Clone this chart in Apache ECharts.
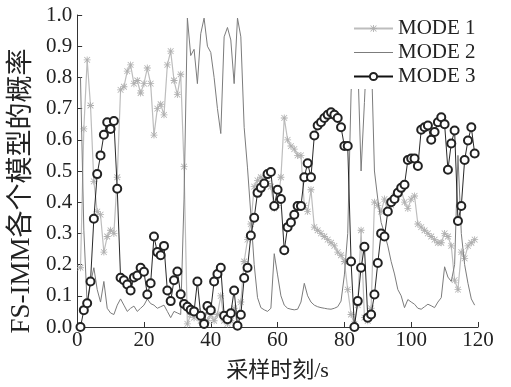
<!DOCTYPE html>
<html>
<head>
<meta charset="utf-8">
<script src="https://cdn.jsdelivr.net/npm/echarts@6/dist/echarts.min.js"></script>
<style>
  html, body { margin: 0; padding: 0; background: #fff; }
  #chart { width: 511px; height: 387px; }
</style>
</head>
<body>
<div id="chart"></div>
<script>
// sample times start at 1 s, one sample per second
const startTime = 1;

// MODE 1 probability (light grey, star markers)
const mode1 = [
  0.19, 0.635, 0.856, 0.71, 0.467, 0.37, 0.36, 0.24, 0.29, 0.31,
  0.30, 0.48, 0.76, 0.77, 0.82, 0.84, 0.78, 0.79, 0.75, 0.78,
  0.83, 0.78, 0.615, 0.70, 0.714, 0.68, 0.84, 0.884, 0.79, 0.745,
  0.81, 0.514, 0.01, 0.04, 0.03, 0.05, 0.02, 0.01, 0.02, 0.04,
  0.02, 0.04, 0.10, 0.02, 0.01, 0.02, 0.06, 0.005, 0.08, 0.21,
  0.28, 0.33, 0.45, 0.47, 0.48, 0.47, 0.46, 0.45, 0.38, 0.39,
  0.48, 0.67, 0.60, 0.58, 0.57, 0.55, 0.55, 0.39, 0.37, 0.44,
  0.32, 0.31, 0.30, 0.29, 0.28, 0.27, 0.26, 0.24, 0.23, 0.21,
  0.12, 0.04, 0.01, 0.07, 0.31, 0.03, 0.02, 0.06, 0.40, 0.39,
  0.37, 0.41, 0.37, 0.39, 0.42, 0.43, 0.44, 0.40, 0.38, 0.41,
  0.42, 0.33, 0.32, 0.31, 0.30, 0.29, 0.28, 0.27, 0.27, 0.30,
  0.29, 0.26, 0.15, 0.12, 0.24, 0.22, 0.26, 0.27, 0.28
];

// MODE 2 probability (grey line)
const mode2 = [
  0.80, 0.31, 0.07, 0.14, 0.19, 0.12, 0.08, 0.146, 0.06, 0.045,
  0.04, 0.07, 0.09, 0.07, 0.05, 0.06, 0.067, 0.05, 0.06, 0.07,
  0.09, 0.075, 0.07, 0.06, 0.065, 0.07, 0.05, 0.03, 0.05, 0.045,
  0.04, 0.41, 0.99, 0.87, 0.89, 0.78, 0.94, 0.99, 0.90, 0.88,
  0.80, 0.70, 0.62, 0.93, 0.96, 0.92, 0.78, 0.99, 0.93, 0.64,
  0.51, 0.36, 0.20, 0.094, 0.062, 0.055, 0.05, 0.06, 0.235, 0.167,
  0.10, 0.07, 0.06, 0.057, 0.055, 0.057, 0.08, 0.14, 0.10, 0.08,
  0.07, 0.065, 0.062, 0.06, 0.058, 0.057, 0.06, 0.065, 0.083, 0.167,
  0.30, 0.75, 0.99, 0.85, 0.50, 0.72, 0.95, 0.90, 0.50, 0.41,
  0.335, 0.30, 0.26, 0.21, 0.17, 0.12, 0.10, 0.062, 0.088, 0.08,
  0.073, 0.06, 0.057, 0.065, 0.073, 0.068, 0.062, 0.08, 0.094, 0.193,
  0.16, 0.146, 0.20, 0.55, 0.30, 0.20, 0.14, 0.09, 0.07
];

// MODE 3 probability (black, circle markers)
const mode3 = [
  0.00, 0.054, 0.076, 0.146, 0.347, 0.49, 0.55, 0.616, 0.656, 0.635,
  0.66, 0.443, 0.158, 0.15, 0.136, 0.117, 0.159, 0.165, 0.19, 0.177,
  0.104, 0.14, 0.29, 0.24, 0.23, 0.26, 0.117, 0.083, 0.15, 0.178,
  0.105, 0.074, 0.065, 0.055, 0.05, 0.146, 0.036, 0.01, 0.067, 0.054,
  0.146, 0.17, 0.19, 0.036, 0.025, 0.044, 0.117, 0.004, 0.039, 0.157,
  0.19, 0.293, 0.35, 0.43, 0.446, 0.46, 0.49, 0.497, 0.388, 0.44,
  0.41, 0.246, 0.32, 0.335, 0.36, 0.388, 0.388, 0.48, 0.525, 0.48,
  0.614, 0.646, 0.656, 0.67, 0.68, 0.688, 0.68, 0.67, 0.64, 0.58,
  0.58, 0.21, 0.0, 0.083, 0.19, 0.257, 0.03, 0.04, 0.104, 0.205,
  0.30, 0.29, 0.37, 0.40, 0.41, 0.43, 0.446, 0.456, 0.535, 0.54,
  0.54, 0.516, 0.632, 0.64, 0.646, 0.60, 0.625, 0.656, 0.672, 0.65,
  0.504, 0.588, 0.63, 0.34, 0.388, 0.535, 0.598, 0.64, 0.556
];

const seriesNames = ["MODE 1", "MODE 2", "MODE 3"];
const xTicks = [0, 20, 40, 60, 80, 100, 120];
const yTicks = [0.0, 0.1, 0.2, 0.3, 0.4, 0.5, 0.6, 0.7, 0.8, 0.9, 1.0];

const serif = "'Liberation Serif', 'Times New Roman', 'Noto Sans CJK SC', serif";
const starSymbol =
  "path://M4.4,0H5.6V10H4.4Z M0,4.4H10V5.6H0Z M1.3,0.5L9.5,8.7L8.7,9.5L0.5,1.3Z M8.7,0.5L9.5,1.3L1.3,9.5L0.5,8.7Z";
// plain line for the MODE 2 legend entry (tiny corner dots keep the box 39x9)
const plainLineIcon =
  "path://M0,0h0.01v0.01h-0.01z M0,4h39v1h-39z M38.99,8.99h0.01v0.01h-0.01z";

const toPairs = (arr) => arr.map((v, i) => [startTime + i, v]);

const chart = echarts.init(document.getElementById("chart"), null, { renderer: "canvas" });

const option = {
  backgroundColor: "#fff",
  animation: false,
  grid: { left: 72, right: 33, top: 15, bottom: 54 },
  legend: {
    data: [
      { name: seriesNames[0] },
      { name: seriesNames[1], icon: plainLineIcon },
      { name: seriesNames[2] },
    ],
    orient: "vertical",
    left: 349,
    top: 14,
    backgroundColor: "#fff",
    padding: [4, 6, 2, 4],
    itemWidth: 39,
    itemHeight: 9,
    itemGap: 3,
    textStyle: { fontFamily: serif, fontSize: 21, lineHeight: 20, color: "#222" },
  },
  xAxis: {
    type: "value",
    min: xTicks[0],
    max: xTicks[xTicks.length - 1],
    interval: 20,
    name: "采样时刻/s",
    nameLocation: "middle",
    nameGap: 33,
    nameTextStyle: { fontFamily: serif, fontSize: 22, color: "#222" },
    axisLine: { show: true, lineStyle: { color: "#333", width: 1 } },
    axisTick: { show: true, inside: true, length: 5, lineStyle: { color: "#333" } },
    axisLabel: { fontFamily: serif, fontSize: 21, color: "#222", margin: 3 },
    splitLine: { show: false },
  },
  yAxis: {
    type: "value",
    min: yTicks[0],
    max: yTicks[yTicks.length - 1],
    interval: 0.1,
    name: "FS-IMM各个模型的概率",
    nameLocation: "middle",
    nameGap: 42,
    // right padding nudges the rotated title down along the axis
    nameTextStyle: { fontFamily: serif, fontSize: 27, color: "#222", padding: [0, 40, 0, 0] },
    axisLine: { show: true, lineStyle: { color: "#333", width: 1 } },
    axisTick: { show: true, inside: true, length: 5, lineStyle: { color: "#333" } },
    axisLabel: {
      fontFamily: serif,
      fontSize: 21,
      color: "#222",
      margin: 5,
      formatter: (v) => v.toFixed(1),
    },
    splitLine: { show: false },
  },
  series: [
    {
      name: seriesNames[0],
      type: "line",
      data: toPairs(mode1),
      symbol: starSymbol,
      symbolSize: 7,
      showAllSymbol: true,
      lineStyle: { color: "#bdbdbd", width: 1.2 },
      itemStyle: { color: "#b0b0b0" },
      z: 2,
    },
    {
      name: seriesNames[1],
      type: "line",
      data: toPairs(mode2),
      showSymbol: false,
      lineStyle: { color: "#7c7c7c", width: 1 },
      itemStyle: { color: "#7c7c7c" },
      z: 3,
    },
    {
      name: seriesNames[2],
      type: "line",
      data: toPairs(mode3),
      symbol: "emptyCircle",
      symbolSize: 8,
      showAllSymbol: true,
      lineStyle: { color: "#111", width: 0.9 },
      itemStyle: { color: "#222", borderWidth: 0.7 },
      z: 4,
    },
  ],
};

chart.setOption(option);
</script>
</body>
</html>
